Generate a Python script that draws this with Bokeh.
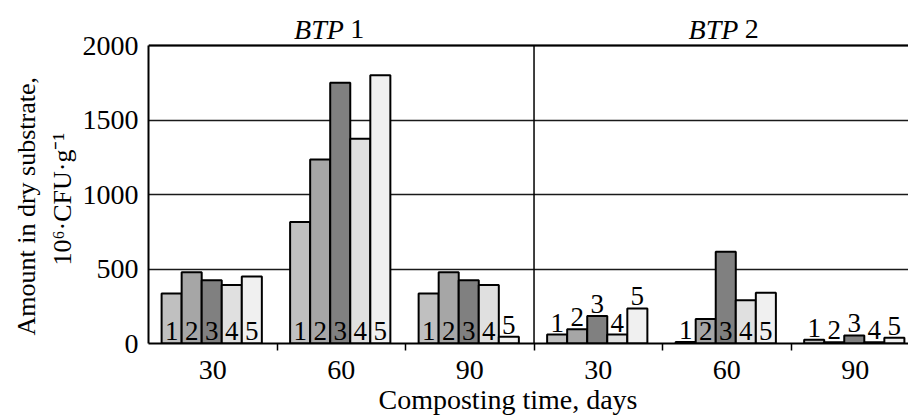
from bokeh.plotting import figure
from bokeh.models import FixedTicker, Range1d, ColumnDataSource, Title
from bokeh.core.properties import value
from bokeh.embed import file_html
from bokeh.resources import INLINE
import numpy as np

# ---- data ----
days = ["30", "60", "90", "30", "60", "90"]
panels = ["BTP 1", "BTP 2"]
variants = ["1", "2", "3", "4", "5"]
v1 = [335, 815, 335, 60, 10, 25]
v2 = [478, 1235, 478, 95, 165, 8]
v3 = [425, 1750, 425, 185, 615, 54]
v4 = [392, 1375, 392, 60, 290, 8]
v5 = [450, 1800, 45, 235, 340, 38]
series = [v1, v2, v3, v4, v5]
yticks = [0, 500, 1000, 1500, 2000]
ymax = 2000
ylabel1 = "Amount in dry substrate,"
ylabel2 = "10\u2076\u00b7CFU\u00b7g\u207b\u00b9"
xlabel = "Composting time, days"

colors = ["#c0c0c0", "#a6a6a6", "#808080", "#e0e0e0", "#f0f0f0"]
FONT = "Liberation Serif"
FS = "28px"

TOP_PAD = 2235  # range end leaves room above the 2000 line for panel titles
p = figure(width=908, height=417, x_range=Range1d(0, 5.914), y_range=Range1d(0, TOP_PAD),
           output_backend="svg", toolbar_location=None,
           min_border_left=148, min_border_right=0, min_border_top=10, min_border_bottom=74)
p.outline_line_color = None
p.background_fill_color = "white"
p.border_fill_color = "white"
p.xgrid.visible = False
p.ygrid.ticker = FixedTicker(ticks=yticks)
p.ygrid.grid_line_color = "#1a1a1a"
p.ygrid.grid_line_width = 1.5

n = len(days)
centers = np.arange(n) + 0.5
bw = 0.156
group_max = [max(s[i] for s in series) for i in range(n)]

lab_x, lab_y, lab_t, lab_off = [], [], [], []
for k, vals in enumerate(series):
    xs = centers + (k - 2) * bw - 0.008
    p.vbar(x=xs, top=vals, bottom=0, width=bw, fill_color=colors[k],
           line_color="black", line_width=2)
    for i, v in enumerate(vals):
        inside = v >= 150 and group_max[i] >= 300
        lab_x.append(xs[i])
        lab_t.append(variants[k])
        if inside:
            lab_y.append(0)
            lab_off.append(-13)
        else:
            lab_y.append(v)
            lab_off.append(-12)

src = ColumnDataSource(dict(x=lab_x, y=lab_y, t=lab_t, off=lab_off))
p.text(x="x", y="y", text="t", y_offset="off", source=src, text_font=value(FONT),
       text_font_size="27px", text_align="center", text_baseline="alphabetic",
       text_color="black")

# top line and panel separator
p.segment(x0=[0], y0=[ymax], x1=[5.914], y1=[ymax], line_color="black", line_width=2)
p.segment(x0=[3], y0=[0], x1=[3], y1=[ymax], line_color="black", line_width=1.5)

# panel titles
tx_b, tx_n, t_b, t_n = [], [], [], []
for j, name in enumerate(panels):
    base, num = name.split(" ")
    xr = 1.52 + 3.07 * j
    tx_b.append(xr); t_b.append(base)
    tx_n.append(xr + 0.05); t_n.append(num)
ty = ymax + 108
p.text(x=tx_b, y=[ty] * 2, text=t_b, text_font=value(FONT), text_font_size=FS,
       text_font_style="italic", text_align="right", text_baseline="alphabetic",
       text_color="black")
p.text(x=tx_n, y=[ty] * 2, text=t_n, text_font=value(FONT), text_font_size=FS,
       text_align="left", text_baseline="alphabetic", text_color="black")

# x axis
xa = p.xaxis[0]
xa.ticker = FixedTicker(ticks=list(centers), minor_ticks=[1, 2, 3, 4, 5])
xa.major_label_overrides = {float(c): d for c, d in zip(centers, days)}
xa.major_tick_out = 0
xa.major_tick_in = 0
xa.minor_tick_out = 7
xa.minor_tick_in = 0
xa.minor_tick_line_color = "black"
xa.minor_tick_line_width = 1.5
xa.axis_line_color = "black"
xa.axis_line_width = 2
xa.major_label_standoff = 10
xa.major_label_text_font = FONT
xa.major_label_text_font_size = FS
xa.major_label_text_color = "black"

# y axis
ya = p.yaxis[0]
ya.ticker = FixedTicker(ticks=yticks)
ya.bounds = (0, ymax)
ya.major_tick_out = 0
ya.major_tick_in = 0
ya.minor_tick_out = 0
ya.minor_tick_in = 0
ya.axis_line_color = "black"
ya.axis_line_width = 2
ya.major_label_standoff = 10
ya.major_label_text_font = FONT
ya.major_label_text_font_size = FS
ya.major_label_text_color = "black"


def title(text, size=FS, **kw):
    return Title(text=text, text_font=FONT, text_font_size=size, text_font_style="normal",
                 text_color="black", **kw)


p.add_layout(title(xlabel, align="left", offset=230, standoff=0), "below")
p.add_layout(title(ylabel2, size="26px", align="left", offset=78, standoff=5), "left")
p.add_layout(title(ylabel1, size="26px", align="left", offset=8, standoff=6), "left")

open("out.html", "w").write(file_html(p, INLINE))
